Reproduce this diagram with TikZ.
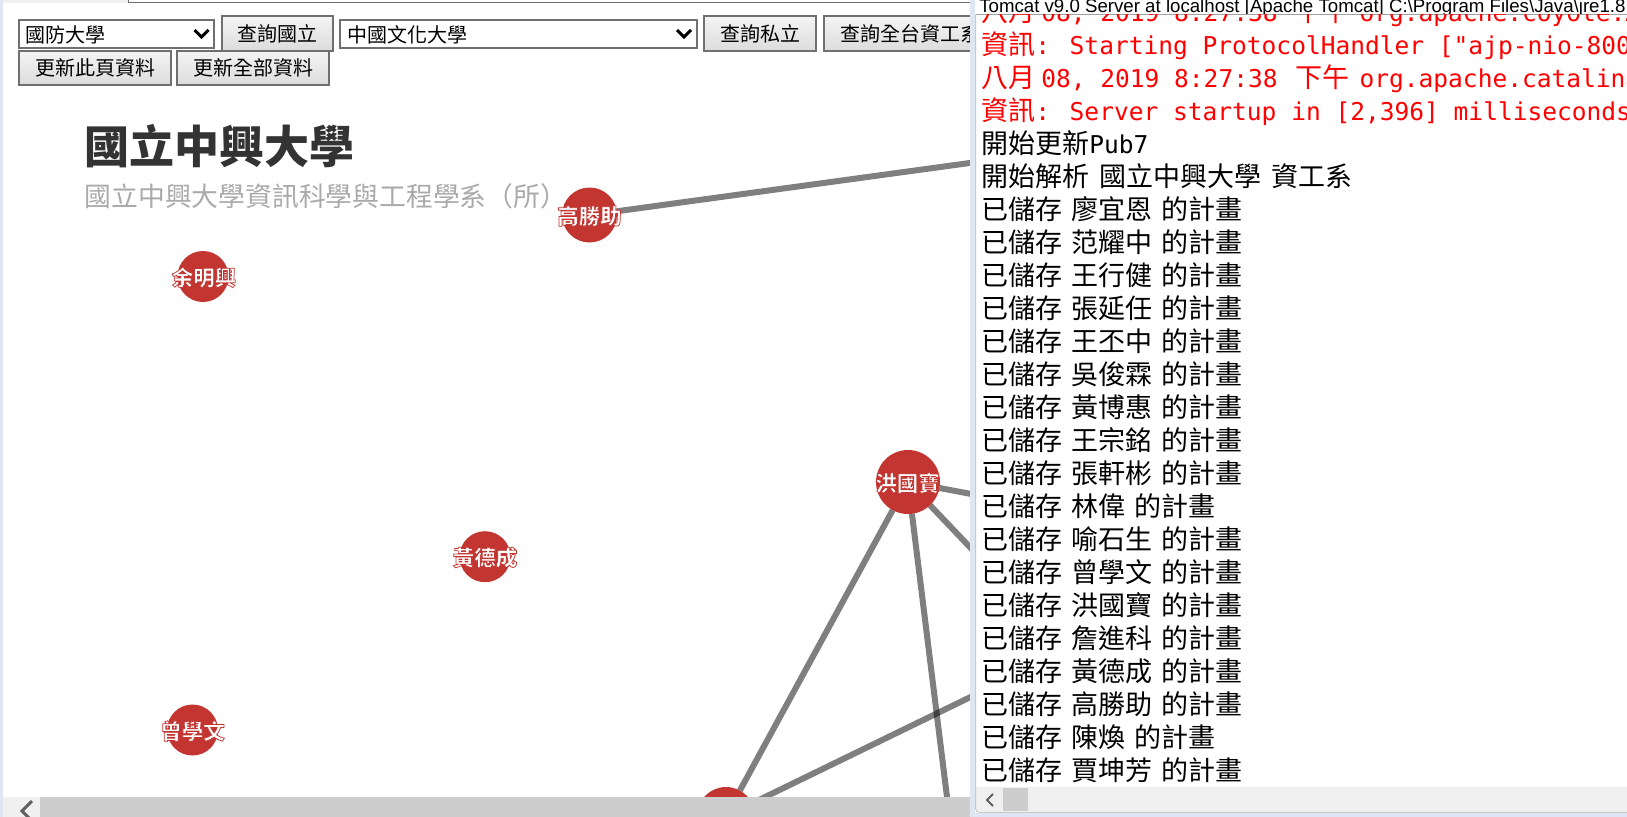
\documentclass[tikz,border=0pt]{standalone}
\usepackage{fontspec}
\setmainfont{Liberation Sans}
\newfontfamily\cjk{Noto Sans CJK TC}
\newfontfamily\mono{DejaVu Sans Mono}
\definecolor{nodered}{HTML}{C23531}
\definecolor{titlegray}{HTML}{333333}
\definecolor{subgray}{HTML}{AAAAAA}
\definecolor{btnborder}{HTML}{707070}
\definecolor{btntop}{HTML}{F4F4F4}
\definecolor{btnbot}{HTML}{DCDCDC}
\definecolor{barblue}{HTML}{DFE6F3}
\definecolor{sbgray}{HTML}{CDCDCD}
\definecolor{sbbg}{HTML}{F0F0F0}
\definecolor{conred}{HTML}{FF0000}
\definecolor{chevgray}{HTML}{606060}
\definecolor{sepgray}{HTML}{A0A0A0}
\definecolor{framegray}{HTML}{C8C8C8}
\newcommand\monofs{\mono\fontsize{18.4pt}{22pt}\selectfont}
% white glyphs with a thin red outline (fill + stroke render mode)
\newcommand\outlined[1]{\special{pdf:literal direct 0.761 0.208 0.192 RG 0.55 w 2 Tr}#1\special{pdf:literal direct 0 Tr}}
\pgfdeclarelayer{back}
\pgfdeclarelayer{edgelayer}
\pgfsetlayers{back,edgelayer,main}
\tikzset{
  edge/.style={draw=black, draw opacity=0.5, line width=4.5pt},
  gnode/.style={circle, fill=nodered, inner sep=0pt, outer sep=0pt},
  glabel/.style={text=white, font=\cjk\bfseries\fontsize{16.1pt}{18pt}\selectfont, inner sep=0pt},
  btn/.style={draw=btnborder, line width=1.5pt, top color=btntop, bottom color=btnbot,
    inner sep=0pt, outer sep=0pt, anchor=north west, font=\cjk\fontsize{15pt}{17pt}\selectfont},
  selbox/.style={draw=btnborder, line width=1.5pt, fill=white, inner sep=0pt, outer sep=0pt, anchor=north west},
  seltext/.style={font=\cjk\fontsize{15pt}{17pt}\selectfont, inner sep=0pt, anchor=west},
  chev/.style={line width=2.2pt},
  conline/.style={anchor=base west, inner sep=0pt, font=\cjk\fontsize{20.25pt}{22pt}\selectfont},
  conred/.style={conline, text=conred},
}
\begin{document}
\begin{tikzpicture}[x=0.75pt, y=-0.75pt]
\useasboundingbox (0,0) rectangle (1627,817);
\clip (0,0) rectangle (1627,817);
\begin{pgfonlayer}{back}
\fill[white] (0,0) rectangle (1627,817);
\end{pgfonlayer}
\fill[barblue] (0,0) rectangle (3,817);

% graph nodes
\node[gnode, minimum size=41.25pt] (gsz) at (589.5,215) {};
\node[gnode, minimum size=38.25pt] (ymx) at (203,276.5) {};
\node[gnode, minimum size=38.25pt] (hdc) at (485,556.7) {};
\node[gnode, minimum size=38.25pt] (zxw) at (192.5,730) {};
\node[gnode, minimum size=48pt] (hgb) at (908,482) {};
\node[gnode, minimum size=43.5pt] (btm) at (726,816) {};

% far ends of edges (behind the console)
\coordinate (t1) at (1200,131.5);
\coordinate (t2) at (1200,537.5);
\coordinate (t3) at (1100,684);
\coordinate (t4) at (958.7,891.5);
\coordinate (t5) at (1100,634);

\begin{pgfonlayer}{edgelayer}
\draw[edge] (gsz) -- (t1);
\draw[edge] (hgb) -- (t2);
\draw[edge] (hgb) -- (t3);
\draw[edge] (hgb) -- (t4);
\draw[edge] (btm) -- (hgb);
\draw[edge] (btm) -- (t5);
\end{pgfonlayer}

\node[glabel] (gsz-l) at (589.5,216) {\outlined{高勝助}};
\node[glabel] (ymx-l) at (204,277.5) {\outlined{余明興}};
\node[glabel] (hdc-l) at (485,557.5) {\outlined{黃德成}};
\node[glabel] (zxw-l) at (192.5,731) {\outlined{曾學文}};
\node[glabel] (hgb-l) at (907.5,483) {\outlined{洪國寶}};

% titles
\node[anchor=base west, inner sep=0pt, text=titlegray, font=\cjk\bfseries\fontsize{33.75pt}{38pt}\selectfont] (title) at (84,163.5) {國立中興大學};
\node[anchor=base west, inner sep=0pt, text=subgray, font=\cjk\fontsize{20.1pt}{22pt}\selectfont] (subtitle) at (84.5,206.5) {國立中興大學資訊科學與工程學系（所）};

% top bar
\fill[sbbg] (3,0) rectangle (128,3);
\draw[color=btnborder, line width=0.75pt] (128,0) -- (128,2.5) -- (975,2.5);

% controls
\node[selbox, minimum width=146.85pt, minimum height=21.2pt] (s1) at (18.5,20) {};
\node[seltext] (s1t) at (25.5,34.5) {國防大學};
\draw[chev] (194.5,30) -- (201.5,37) -- (208.5,30);
\node[btn, minimum width=83.6pt, minimum height=25.9pt] (bq1) at (221.5,16.5) {查詢國立};
\node[selbox, minimum width=267.75pt, minimum height=21.2pt] (s2) at (340,20) {};
\node[seltext] (s2t) at (347.5,34.5) {中國文化大學};
\draw[chev] (677,30) -- (684,37) -- (691,30);
\node[btn, minimum width=84pt, minimum height=25.9pt] (bq2) at (704,16.5) {查詢私立};
\node[btn, minimum width=129pt, minimum height=25.9pt] (bq3) at (824,16.5) {查詢全台資工系};
\node[btn, minimum width=114pt, minimum height=25.5pt] (bu1) at (19,51) {更新此頁資料};
\node[btn, minimum width=114pt, minimum height=25.5pt] (bu2) at (177,51) {更新全部資料};

% left horizontal scrollbar
\fill[sbbg] (3,796.5) rectangle (40,817);
\fill[sbgray] (40,796.5) rectangle (970,817);
\draw[color=chevgray, line width=2.2pt] (32,801) -- (22,811) -- (32,821);

% console panel
\fill[white] (970,0) rectangle (1627,817);
\fill[barblue] (970,0) rectangle (975,817);
\begin{scope}
\clip (976,0) rectangle (1627,14);
\node[anchor=base west, inner sep=0pt, font=\fontsize{14pt}{16pt}\selectfont] (ctitle) at (979,12.5) {Tomcat v9.0 Server at localhost [Apache Tomcat] C:\textbackslash Program Files\textbackslash Java\textbackslash jre1.8.0\_221\textbackslash bin\textbackslash javaw.exe};
\end{scope}
\draw[color=sepgray, line width=0.75pt] (976,14.5) -- (1627,14.5);

\begin{scope}
\clip (976,15) rectangle (1627,787);
\node[conred] (c0) at (981,21.5) {八月\hspace{4.5pt}{\monofs 08, 2019 8:27:38}\hspace{13.5pt}下午\hspace{7.5pt}{\monofs org.apache.coyote.AbstractProtocol start}};
\node[conred] (c1) at (981,54.5) {資訊{\monofs: Starting ProtocolHandler ["ajp-nio-8009"]}};
\node[conred] (c2) at (981,87.5) {八月\hspace{4.5pt}{\monofs 08, 2019 8:27:38}\hspace{13.5pt}下午\hspace{7.5pt}{\monofs org.apache.catalina.startup.Catalina start}};
\node[conred] (c3) at (981,120.5) {資訊{\monofs: Server startup in [2,396] milliseconds}};
\node[conline] (c4) at (981,153.5) {開始更新{\monofs Pub7}};
\node[conline] (c5) at (981,186.5) {開始解析\hspace{7.5pt}國立中興大學\hspace{7.5pt}資工系};
\node[conline] (c6) at (981,219.5) {已儲存\hspace{6.75pt}廖宜恩\hspace{6.75pt}的計畫};
\node[conline] (c7) at (981,252.5) {已儲存\hspace{6.75pt}范耀中\hspace{6.75pt}的計畫};
\node[conline] (c8) at (981,285.5) {已儲存\hspace{6.75pt}王行健\hspace{6.75pt}的計畫};
\node[conline] (c9) at (981,318.5) {已儲存\hspace{6.75pt}張延任\hspace{6.75pt}的計畫};
\node[conline] (c10) at (981,351.5) {已儲存\hspace{6.75pt}王丕中\hspace{6.75pt}的計畫};
\node[conline] (c11) at (981,384.5) {已儲存\hspace{6.75pt}吳俊霖\hspace{6.75pt}的計畫};
\node[conline] (c12) at (981,417.5) {已儲存\hspace{6.75pt}黃博惠\hspace{6.75pt}的計畫};
\node[conline] (c13) at (981,450.5) {已儲存\hspace{6.75pt}王宗銘\hspace{6.75pt}的計畫};
\node[conline] (c14) at (981,483.5) {已儲存\hspace{6.75pt}張軒彬\hspace{6.75pt}的計畫};
\node[conline] (c15) at (981,516.5) {已儲存\hspace{6.75pt}林偉\hspace{6.75pt}的計畫};
\node[conline] (c16) at (981,549.5) {已儲存\hspace{6.75pt}喻石生\hspace{6.75pt}的計畫};
\node[conline] (c17) at (981,582.5) {已儲存\hspace{6.75pt}曾學文\hspace{6.75pt}的計畫};
\node[conline] (c18) at (981,615.5) {已儲存\hspace{6.75pt}洪國寶\hspace{6.75pt}的計畫};
\node[conline] (c19) at (981,648.5) {已儲存\hspace{6.75pt}詹進科\hspace{6.75pt}的計畫};
\node[conline] (c20) at (981,681.5) {已儲存\hspace{6.75pt}黃德成\hspace{6.75pt}的計畫};
\node[conline] (c21) at (981,714.5) {已儲存\hspace{6.75pt}高勝助\hspace{6.75pt}的計畫};
\node[conline] (c22) at (981,747.5) {已儲存\hspace{6.75pt}陳煥\hspace{6.75pt}的計畫};
\node[conline] (c23) at (981,780.5) {已儲存\hspace{6.75pt}賈坤芳\hspace{6.75pt}的計畫};
\end{scope}

% console scrollbar and frame
\fill[sbbg] (976,787) rectangle (1627,811.5);
\fill[sbgray] (1003,788) rectangle (1028,810.5);
\draw[color=chevgray, line width=1.5pt] (993,794) -- (987,800) -- (993,806);
\draw[color=framegray, line width=0.75pt, rounded corners=3pt] (975.5,14.5) -- (975.5,812.5) -- (1627,812.5);
\fill[barblue] (970,813.2) rectangle (1627,817);
\end{tikzpicture}
\end{document}
